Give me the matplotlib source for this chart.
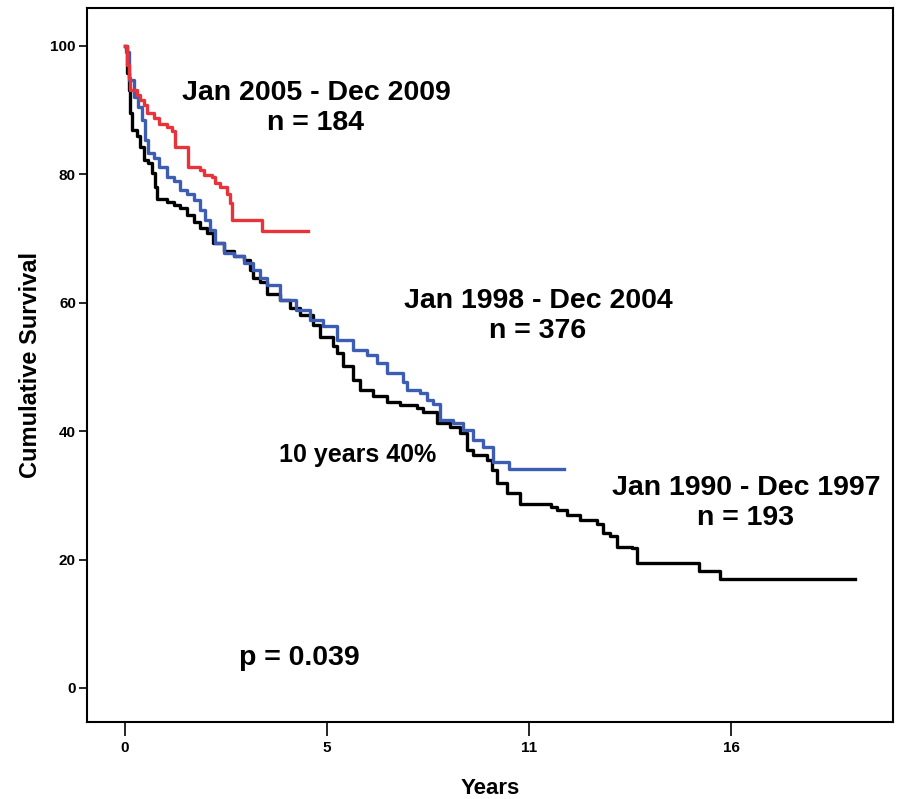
import matplotlib
matplotlib.use("Agg")
import matplotlib.pyplot as plt
from matplotlib import font_manager

names = {f.name for f in font_manager.fontManager.ttflist}
NARROW = "Liberation Sans Narrow" if "Liberation Sans Narrow" in names else "Liberation Sans"
REG = "Liberation Sans"

# ---- data (years, cumulative survival %) ----
red_t = [0, 0.05, 0.10, 0.13, 0.33, 0.42, 0.51, 0.60, 0.78, 0.92, 1.14, 1.28, 1.37, 1.73,
         2.05, 2.14, 2.37, 2.46, 2.60, 2.78, 2.87, 2.91, 3.73, 4.97]
red_s = [100, 97, 95, 93.1, 92.4, 91.6, 90.8, 89.5, 88.7, 87.9, 87.4, 86.7, 84.3, 81.2,
         80.7, 79.9, 79.6, 78.6, 78.1, 77.0, 75.5, 72.9, 71.1, 71.1]

blue_t = [0, 0.04, 0.10, 0.24, 0.37, 0.46, 0.55, 0.64, 0.78, 0.92, 1.14, 1.33, 1.51, 1.69,
          1.87, 2.05, 2.19, 2.32, 2.46, 2.69, 2.96, 3.23, 3.49, 3.68, 3.86, 4.22, 4.67,
          5.04, 5.40, 5.76, 6.22, 6.58, 6.85, 7.12, 7.58, 7.67, 8.03, 8.21, 8.39, 8.58,
          8.94, 9.21, 9.48, 9.75, 10.03, 10.44, 11.95]
blue_s = [100, 99, 94.7, 92.1, 90.5, 88.5, 85.4, 83.3, 82.5, 81.2, 79.6, 78.9, 77.6, 77.0,
          76.0, 74.5, 72.9, 71.3, 69.3, 67.7, 67.2, 66.2, 65.1, 63.8, 62.8, 60.4, 58.9,
          57.3, 56.3, 54.2, 52.6, 51.9, 50.6, 49.0, 47.7, 46.4, 45.9, 44.9, 44.3, 41.7,
          41.2, 40.2, 38.6, 37.6, 35.2, 34.1, 34.1]

black_t = [0, 0.05, 0.10, 0.14, 0.19, 0.33, 0.42, 0.51, 0.64, 0.74, 0.83, 0.87, 1.14, 1.33,
           1.51, 1.69, 1.87, 2.05, 2.23, 2.41, 2.69, 2.96, 3.23, 3.41, 3.50, 3.68, 3.86,
           4.22, 4.49, 4.76, 5.13, 5.31, 5.67, 5.76, 5.94, 6.22, 6.40, 6.76, 7.12, 7.49,
           7.94, 8.12, 8.49, 8.85, 9.12, 9.30, 9.48, 9.85, 9.98, 10.12, 10.39, 10.75,
           11.60, 11.75, 12.02, 12.39, 12.84, 13.02, 13.20, 13.38, 13.79, 13.93, 15.61,
           16.20, 19.87]
black_s = [100, 95.7, 93.1, 89.5, 86.9, 85.9, 84.3, 82.2, 81.7, 80.2, 78.1, 76.2, 75.7, 75.2,
           74.7, 73.7, 72.6, 71.6, 70.8, 69.3, 68.0, 67.2, 66.7, 65.1, 63.8, 63.3, 61.4,
           60.4, 59.1, 58.1, 56.5, 54.7, 53.2, 52.1, 50.1, 48.0, 46.4, 45.4, 44.6, 44.1,
           43.6, 43.0, 41.2, 40.7, 39.7, 37.1, 36.3, 35.5, 34.0, 31.9, 30.3, 28.7,
           28.2, 27.7, 26.9, 26.2, 25.6, 24.1, 23.6, 22.0, 21.8, 19.4, 18.2,
           16.9, 16.9]

x_tick_pos = [0, 5.5, 11, 16.5]
x_tick_labels = ["0", "5", "11", "16"]
y_ticks = [0, 20, 40, 60, 80, 100]

labels = ["Jan 2005 - Dec 2009\nn = 184", "Jan 1998 - Dec 2004\nn = 376",
          "Jan 1990 - Dec 1997\nn = 193"]

fig = plt.figure(figsize=(8.97, 7.99), dpi=100)
ax = fig.add_axes([87/897, 77/799, 806/897, 714/799])

lw = 2.4
ax.step(black_t, black_s, where="post", color="black", lw=lw, zorder=3)
ax.step(blue_t, blue_s, where="post", color="#3d5db5", lw=lw, zorder=4)
ax.step(red_t, red_s, where="post", color="#e8333b", lw=lw, zorder=5)

ax.set_xlim(-1.03, 20.9)
ax.set_ylim(-5.3, 105.9)
ax.set_xticks(x_tick_pos)
ax.set_xticklabels(x_tick_labels)
ax.set_yticks(y_ticks)
for lab in ax.get_xticklabels() + ax.get_yticklabels():
    lab.set_fontfamily(NARROW)
    lab.set_fontweight("bold")
    lab.set_fontsize(11)
ax.tick_params(axis="x", length=10, width=1.2, pad=4)
ax.tick_params(axis="y", length=6, width=1.2, pad=2)
for sp in ax.spines.values():
    sp.set_linewidth(1.5)

ax.set_ylabel("Cumulative Survival", fontfamily=REG, fontweight="bold", fontsize=17, labelpad=6)
ax.set_xlabel("Years", fontfamily=NARROW, fontweight="bold", fontsize=16, labelpad=16)

tk = dict(fontfamily=NARROW, fontweight="bold", fontsize=20.5, ha="center", va="center",
          linespacing=1.2)
ax.text(5.2, 90.4, labels[0], **tk)
ax.text(11.24, 57.9, labels[1], **tk)
ax.text(16.9, 28.8, labels[2], **tk)
ax.text(6.32, 36.3, "10 years 40%", fontfamily=REG, fontweight="bold", fontsize=18,
        ha="center", va="center")
ax.text(4.76, 4.7, "p = 0.039", fontfamily=NARROW, fontweight="bold", fontsize=20.5,
        ha="center", va="center")

fig.savefig("out.png", dpi=100)
